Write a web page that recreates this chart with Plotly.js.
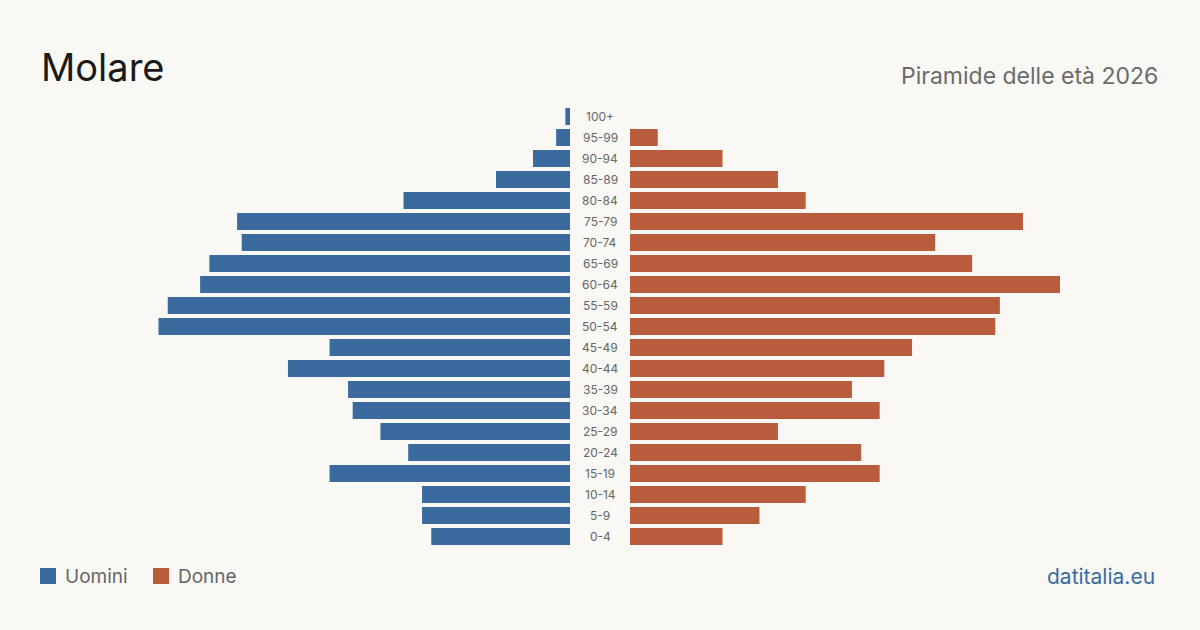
<!DOCTYPE html>
<html>
<head>
<meta charset="utf-8">
<script src="https://cdn.plot.ly/plotly-3.0.1.min.js"></script>
<style>
html,body{margin:0;padding:0;background:#f9f8f4;}
#chart{width:1200px;height:630px;}
</style>
</head>
<body>
<div id="chart"></div>
<script>
const ageGroups = ["0-4","5-9","10-14","15-19","20-24","25-29","30-34","35-39","40-44","45-49","50-54","55-59","60-64","65-69","70-74","75-79","80-84","85-89","90-94","95-99","100+"];
const men   = [30,32,32,52,35,41,47,48,61,52,89,87,80,78,71,72,36,16,8,3,1];
const women = [20,28,38,54,50,32,54,48,55,61,79,80,93,74,66,85,38,32,20,6,0];
const seriesNames = ["Uomini","Donne"];

const blue = "#3b6b9e";
const orange = "#b95c3c";
const font = "Inter, 'Noto Sans', sans-serif";

const W = 1200, H = 630;
const plotTop = 106, plotBottom = 547;
const py = p => (plotBottom - p)/(plotBottom - plotTop); // pixel y -> paper y
const px = p => p/W;
const scale = 430/93; // px per person
const leftRange = (570-40)/scale;
const rightRange = (1160-630)/scale;

const traces = [
  {type:"bar", orientation:"h", name:seriesNames[0], x:men, y:ageGroups, xaxis:"x", yaxis:"y",
   marker:{color:blue}, hoverinfo:"x+y"},
  {type:"bar", orientation:"h", name:seriesNames[1], x:women, y:ageGroups, xaxis:"x2", yaxis:"y",
   marker:{color:orange}, hoverinfo:"x+y"}
];

const annotations = ageGroups.map(a => ({
  text:a, x:px(600), xref:"paper", y:a, yref:"y", showarrow:false,
  xanchor:"center", yanchor:"middle", font:{family:font, size:12, color:"#666"}
}));
annotations.push(
  {text:"Molare", x:px(39), xref:"paper", y:py(67), yref:"paper", showarrow:false,
   xanchor:"left", yanchor:"middle", font:{family:font, size:38, color:"#1a1a1a"}},
  {text:"Piramide delle età 2026", x:px(1160), xref:"paper", y:py(76), yref:"paper", showarrow:false,
   xanchor:"right", yanchor:"middle", font:{family:font, size:23, color:"#6b6b6b"}},
  {text:"datitalia.eu", x:px(1157), xref:"paper", y:py(576), yref:"paper", showarrow:false,
   xanchor:"right", yanchor:"middle", font:{family:font, size:21, color:"#3b6b9e"}}
);

// custom legend built from traces
const legendX = [40, 153];
const shapes = [];
traces.forEach((t, i) => {
  shapes.push({type:"rect", xref:"paper", yref:"paper",
    x0:px(legendX[i]), x1:px(legendX[i]+16), y0:py(584), y1:py(568),
    fillcolor:t.marker.color, line:{width:0}});
  annotations.push({text:t.name, x:px(legendX[i]+23), xref:"paper", y:py(576), yref:"paper",
    showarrow:false, xanchor:"left", yanchor:"middle", font:{family:font, size:19, color:"#666"}});
});

const layout = {
  width:W, height:H,
  paper_bgcolor:"#f9f8f4", plot_bgcolor:"#f9f8f4",
  margin:{l:0, r:0, t:plotTop, b:H-plotBottom},
  barmode:"overlay", bargap:0.19,
  showlegend:false,
  xaxis:{domain:[px(40), px(570)], range:[leftRange, 0], visible:false, fixedrange:true},
  xaxis2:{domain:[px(630), px(1160)], range:[0, rightRange], visible:false, fixedrange:true},
  yaxis:{type:"category", categoryorder:"array", categoryarray:ageGroups, range:[-0.5, 20.5],
         visible:false, fixedrange:true},
  annotations:annotations,
  shapes:shapes,
  font:{family:font}
};

Plotly.newPlot("chart", traces, layout, {displayModeBar:false, staticPlot:true});
</script>
</body>
</html>
